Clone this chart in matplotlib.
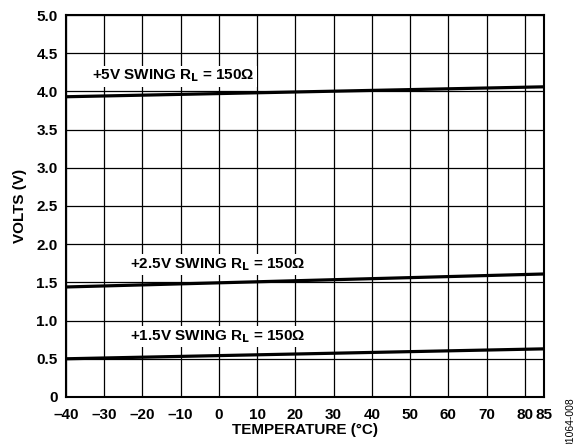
import numpy as np
import matplotlib
import matplotlib.pyplot as plt

matplotlib.use("Agg")

plt.rcParams["font.family"] = ["Liberation Sans", "DejaVu Sans"]
plt.rcParams["font.weight"] = "bold"

# data
temp = [-40, 85]
swing_5v = [3.93, 4.06]
swing_2v5 = [1.44, 1.61]
swing_1v5 = [0.50, 0.63]

xticks = [-40, -30, -20, -10, 0, 10, 20, 30, 40, 50, 60, 70, 80, 85]
xtick_labels = ["–40", "–30", "–20", "–10", "0", "10", "20", "30", "40",
                "50", "60", "70", "80", "85"]
yticks = [0, 0.5, 1.0, 1.5, 2.0, 2.5, 3.0, 3.5, 4.0, 4.5, 5.0]
ytick_labels = ["0", "0.5", "1.0", "1.5", "2.0", "2.5", "3.0", "3.5",
                "4.0", "4.5", "5.0"]

labels = [
    (-33.2, 4.2, "+5V SWING R$_\\mathbf{L}$ = 150Ω"),
    (-23.3, 1.73, "+2.5V SWING R$_\\mathbf{L}$ = 150Ω"),
    (-23.3, 0.79, "+1.5V SWING R$_\\mathbf{L}$ = 150Ω"),
]

fs = 11

fig = plt.figure(figsize=(5.81, 4.44), dpi=100)
ax = fig.add_axes([0.1136, 0.1059, 0.8227, 0.8603])

for ys in (swing_5v, swing_2v5, swing_1v5):
    ax.plot(temp, ys, color="black", linewidth=2.3, zorder=3)

for x, y, txt in labels:
    ax.text(x, y, txt, fontsize=fs, fontweight="bold", va="center", ha="left",
            zorder=4, bbox=dict(facecolor="white", edgecolor="none", pad=1.5))

ax.set_xlim(-40, 85)
ax.set_ylim(0, 5)
ax.set_xticks(xticks)
ax.set_xticklabels(xtick_labels)
ax.set_yticks(yticks)
ax.set_yticklabels(ytick_labels)
ax.tick_params(axis="x", length=0, labelsize=fs, pad=8)
ax.tick_params(axis="y", length=0, labelsize=fs, pad=6)
for lab in ax.get_xticklabels() + ax.get_yticklabels():
    lab.set_fontweight("bold")
ax.grid(True, color="black", linewidth=0.9)
for sp in ax.spines.values():
    sp.set_linewidth(1.5)

ax.set_xlabel("TEMPERATURE (°C)", fontsize=fs, fontweight="bold", labelpad=1)
ax.set_ylabel("VOLTS (V)", fontsize=fs, fontweight="bold", labelpad=7)

fig.text(0.983, 0.106, "01064-008", rotation=90, fontsize=7.5, fontweight="normal",
         ha="center", va="top")

fig.savefig("out.png", dpi=100)
